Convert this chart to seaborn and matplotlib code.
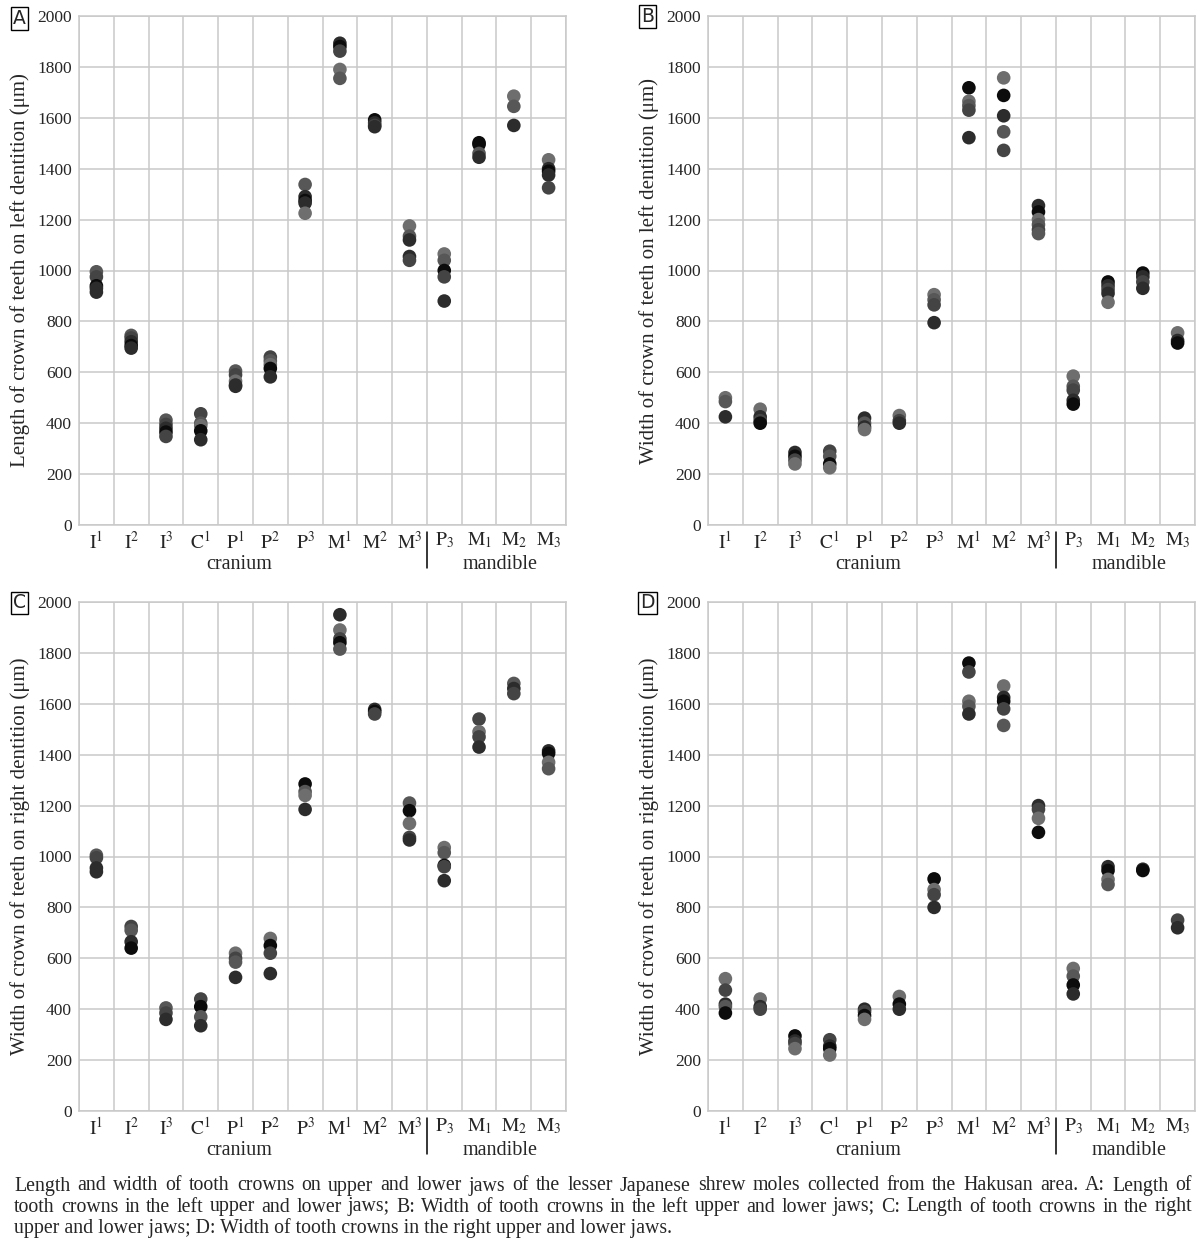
import numpy as np
import pandas as pd
import matplotlib
matplotlib.use("Agg")
import matplotlib.pyplot as plt
import matplotlib.transforms as mtransforms
import seaborn as sns

# ---------------- data ----------------
TEETH = ["I1", "I2", "I3", "C1", "P1", "P2", "P3", "M1", "M2", "M3",
         "P3l", "M1l", "M2l", "M3l"]
TICK_LABELS = [r"$\mathrm{I}^{1}$", r"$\mathrm{I}^{2}$", r"$\mathrm{I}^{3}$", r"$\mathrm{C}^{1}$",
               r"$\mathrm{P}^{1}$", r"$\mathrm{P}^{2}$", r"$\mathrm{P}^{3}$", r"$\mathrm{M}^{1}$",
               r"$\mathrm{M}^{2}$", r"$\mathrm{M}^{3}$", r"$\mathrm{P}_{3}$", r"$\mathrm{M}_{1}$",
               r"$\mathrm{M}_{2}$", r"$\mathrm{M}_{3}$"]

# Panel A: length, left dentition
A_VALUES = [[995, 975, 940, 930, 915], [745, 735, 720, 705, 695], [412, 395, 380, 365, 348],
            [437, 400, 390, 370, 335], [605, 590, 565, 550, 545], [660, 645, 630, 615, 582],
            [1338, 1290, 1275, 1265, 1225], [1893, 1880, 1862, 1790, 1755], [1592, 1580, 1570, 1565],
            [1175, 1135, 1120, 1055, 1040], [1065, 1040, 1000, 975, 880], [1502, 1495, 1460, 1445],
            [1685, 1645, 1570], [1435, 1400, 1390, 1375, 1325]]
A_SHADES = [list("gmkdd"), list("gmdkd"), list("gmdkm"), list("mglkd"), list("gmldd"), list("mglkd"),
            list("gdkdl"), list("dkmlg"), list("kdmd"), list("lgddm"), list("lgkmd"), list("kkgd"),
            list("lgd"), list("ldkdm")]

# Panel B: width, left dentition
B_VALUES = [[500, 485, 425], [455, 425, 410, 400], [285, 270, 255, 240], [290, 270, 240, 225],
            [420, 400, 385, 375], [430, 410, 400], [905, 885, 865, 795],
            [1718, 1665, 1648, 1630, 1522], [1757, 1688, 1608, 1545, 1472],
            [1255, 1230, 1200, 1180, 1160, 1145], [585, 545, 530, 490, 475],
            [955, 940, 925, 910, 875], [990, 975, 955, 930], [755, 725, 715]]
B_SHADES = [list("lgd"), list("ldmk"), list("dkml"), list("mgkl"), list("dgdl"), list("lmd"),
            list("lgmd"), list("klgmd"), list("lkdgm"), list("dklgmg"), list("lgmdk"),
            list("kdmdl"), list("kdmd"), list("ldk")]

# Panel C: crown, right dentition
C_VALUES = [[1005, 995, 955, 940], [725, 710, 665, 640], [405, 385, 360], [440, 410, 370, 335],
            [620, 600, 585, 525], [678, 650, 620, 540], [1285, 1255, 1240, 1185],
            [1950, 1890, 1855, 1840, 1815], [1578, 1570, 1560], [1210, 1180, 1130, 1075, 1065],
            [1035, 1015, 965, 960, 905], [1540, 1490, 1470, 1430], [1680, 1660, 1640],
            [1415, 1405, 1370, 1345]]
C_SHADES = [list("gmdd"), list("mgdk"), list("gmd"), list("mkgd"), list("lmgd"), list("lkmd"),
            list("kgld"), list("dlmkg"), list("dkm"), list("gklmd"), list("lgkmd"), list("mlmd"),
            list("gdm"), list("dklg")]

# Panel D: width, right dentition
D_VALUES = [[520, 475, 420, 410, 385], [440, 410, 400], [295, 275, 265, 245], [280, 255, 245, 220],
            [400, 390, 375, 360], [450, 420, 400], [912, 870, 850, 800],
            [1760, 1725, 1610, 1590, 1560], [1670, 1625, 1610, 1580, 1515], [1200, 1185, 1150, 1095],
            [560, 530, 495, 460], [960, 945, 910, 890], [950, 945], [750, 720]]
D_SHADES = [list("lmdgk"), list("ldm"), list("kdml"), list("mdkl"), list("dmkl"), list("lkd"),
            list("klmd"), list("kmlgd"), list("ldkmg"), list("dmlk"), list("lgkd"), list("dklg"),
            list("dk"), list("md")]

YLABELS = ["Length of crown of teeth on left dentition (\u03bcm)",
           "Width of crown of teeth on left dentition (\u03bcm)",
           "Width of crown of teeth on right dentition (\u03bcm)",
           "Width of crown of teeth on right dentition (\u03bcm)"]
PANEL_LETTERS = ["A", "B", "C", "D"]
CAPTION = ["Length and width of tooth crowns on upper and lower jaws of the lesser Japanese shrew moles collected from the Hakusan area. A: Length of",
           "tooth crowns in the left upper and lower jaws; B: Width of tooth crowns in the left upper and lower jaws; C: Length of tooth crowns in the right",
           "upper and lower jaws; D: Width of tooth crowns in the right upper and lower jaws."]

PALETTE = {"k": "#0c0c0c", "d": "#2c2c2c", "m": "#444444", "g": "#575757", "l": "#6e6e6e"}

# ---------------- style ----------------
sns.set_style("white")
plt.rcParams["font.family"] = ["Liberation Serif", "DejaVu Serif"]
plt.rcParams["mathtext.fontset"] = "stix"

W, H = 1196, 1238
fig = plt.figure(figsize=(W / 100, H / 100), dpi=100)


def add_axes(left, top, right, bottom):
    return fig.add_axes([left / W, 1 - bottom / H, (right - left) / W, (bottom - top) / H])


boxes = [(79, 16, 566, 525), (708, 16, 1195, 525), (79, 602, 566, 1111), (708, 602, 1195, 1111)]
letter_pos = [(19.5, 18.5), (647.5, 16.5), (19.5, 603), (647.5, 603)]
all_vals = [A_VALUES, B_VALUES, C_VALUES, D_VALUES]
all_shades = [A_SHADES, B_SHADES, C_SHADES, D_SHADES]
GRID = "#c9c9c9"

for k in range(4):
    rows = []
    for t, vals, shades in zip(TEETH, all_vals[k], all_shades[k]):
        for v, s in zip(vals, shades):
            rows.append({"tooth": t, "value": v, "shade": s})
    df = pd.DataFrame(rows)
    ax = add_axes(*boxes[k])
    sns.stripplot(data=df, x="tooth", y="value", hue="shade", order=TEETH,
                  palette=PALETTE, jitter=False, size=9.8, linewidth=0,
                  legend=False, ax=ax, zorder=3)
    ax.set_xlim(-0.5, 13.5)
    ax.set_ylim(0, 2000)
    ax.set_yticks(np.arange(0, 2001, 200))
    ax.set_xticks(np.arange(14))
    ax.set_xticklabels(TICK_LABELS, fontsize=14)
    ax.set_xticks(np.arange(-0.5, 14, 1), minor=True)
    ax.tick_params(axis="both", which="both", length=0)
    ax.tick_params(axis="x", pad=4)
    ax.tick_params(axis="y", labelsize=12.5, pad=5)
    ax.grid(False)
    ax.grid(which="minor", axis="x", color=GRID, lw=1.1)
    ax.grid(which="major", axis="y", color=GRID, lw=1.1)
    ax.set_axisbelow(True)
    for sp in ax.spines.values():
        sp.set_color(GRID)
        sp.set_linewidth(1.1)
    ax.set_xlabel("")
    ax.set_ylabel(YLABELS[k], fontsize=15)
    ax.yaxis.set_label_coords(-0.1, 0.5)

    trans = mtransforms.blended_transform_factory(ax.transData, ax.transAxes)
    ax.plot([9.5, 9.5], [-0.013, -0.085], transform=trans, color="black", lw=1.1, clip_on=False)
    ax.text(4.1, -0.078, "cranium", transform=trans, ha="center", va="center", fontsize=14.5)
    ax.text(11.6, -0.078, "mandible", transform=trans, ha="center", va="center", fontsize=14.5)

    lx, ly = letter_pos[k]
    fig.text(lx / W, 1 - ly / H, PANEL_LETTERS[k], ha="center", va="center", fontsize=13.5,
             family="DejaVu Sans",
             bbox=dict(boxstyle="square,pad=0.1", fc="white", ec="black", lw=1.0))

# ---------------- caption (first two lines justified) ----------------
CAP_FS = 14.3
X0, X1 = 14, 1192
renderer = fig.canvas.get_renderer()
for i, line in enumerate(CAPTION):
    ypix = 1186 + 21 * i
    yfig = 1 - ypix / H
    if i < len(CAPTION) - 1:
        words = line.split(" ")
        texts = [fig.text(0, yfig, w, ha="left", va="center", fontsize=CAP_FS) for w in words]
        widths = [t.get_window_extent(renderer=renderer).width for t in texts]
        gap = (X1 - X0 - sum(widths)) / (len(words) - 1)
        x = X0
        for t, w in zip(texts, widths):
            t.set_x(x / W)
            x += w + gap
    else:
        fig.text(X0 / W, yfig, line, ha="left", va="center", fontsize=CAP_FS)

fig.savefig("out.png", dpi=100)
